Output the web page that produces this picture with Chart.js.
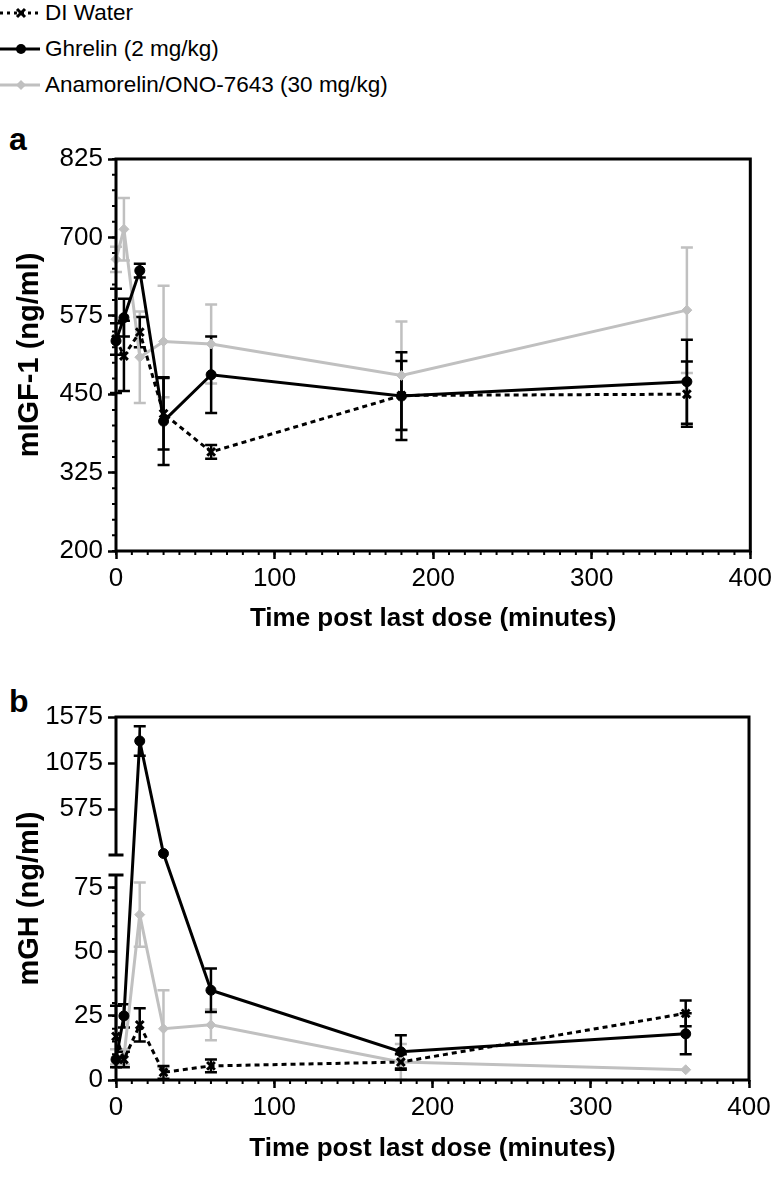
<!DOCTYPE html>
<html>
<head>
<meta charset="utf-8">
<script src="https://cdn.jsdelivr.net/npm/chart.js@4.4.1/dist/chart.umd.min.js"></script>
<style>
body { margin: 0; width: 776px; height: 1186px; position: relative; overflow: hidden; background: #fff; font-family: 'Liberation Sans', Arial, sans-serif; color: #000; }
.item { position: absolute; left: 0; height: 30px; display: flex; align-items: center; font-size: 22.5px; white-space: nowrap; }
.item svg { margin-right: 5px; }
.panel { position: absolute; left: 9px; font-weight: bold; font-size: 32px; line-height: 32px; }
canvas { position: absolute; left: 0; }
</style>
</head>
<body>
<div id="legend"></div>
<div class="panel" style="top:123px">a</div>
<div class="panel" style="top:685px">b</div>
<canvas id="chartA" width="776" height="560" style="top:100px"></canvas>
<canvas id="chartB" width="776" height="526" style="top:660px"></canvas>
<script>
// Temps de prélèvement (minutes après la dernière dose)
const times = [0, 5, 15, 30, 60, 180, 360];
const seriesNames = ['DI Water', 'Ghrelin (2 mg/kg)', 'Anamorelin/ONO-7643 (30 mg/kg)'];

// Graduations
const xTicks = [0, 100, 200, 300, 400];
const igfTicks = [200, 325, 450, 575, 700, 825];
const ghTicks = [0, 25, 50, 75, 575, 1075, 1575];
const ghBreakAt = 80;

// Panneau a : mIGF-1 (ng/ml), moyenne et erreur
const igfWater = [538, 511, 549, 419, 358, 448, 450];
const igfWaterErr = [25, 56, 24, 57, 11, 55, 52];
const igfGhrelin = [535, 572, 647, 407, 481, 447, 470];
const igfGhrelinErr = [83, 30, 11, 70, 61, 70, 67];
const igfAnam = [665, 713, 509, 534, 530, 480, 584];
const igfAnamErr = [20, 50, 73, 89, 63, 86, 100];

// Panneau b : mGH (ng/ml), moyenne et erreur
const ghWater = [17, 8, 21.5, 3, 5.5, 7, 26];
const ghWaterErr = [12, 3, 6.5, 2.5, 2.5, 3, 5];
const ghGhrelin = [8, 25, 1315, 95, 35, 11, 18];
const ghGhrelinErr = [0, 4.5, 160, 0, 8.5, 6.5, 8];
const ghAnam = [9, 9, 64.5, 20, 21.5, 7, 4];
const ghAnamErr = [3, 3, 12.5, 15, 6, 7, 0];

const seriesStyles = [
    { color: '#000000', dash: [5, 4], point: 'crossRot', radius: 5.5, pointBorder: 3 },
    { color: '#000000', dash: [], point: 'circle', radius: 5, pointBorder: 1 },
    { color: '#c0c0c0', dash: [], point: 'rectRot', radius: 5, pointBorder: 1 }
];

Chart.defaults.color = '#000';
Chart.defaults.font.family = "'Liberation Sans', Arial, sans-serif";

// Échelle linéaire coupée en deux segments (bas 0-80, haut 80-max)
class BrokenScale extends Chart.LinearScale {
    parts() {
        const o = this.options.brokenAxis;
        const avail = this.bottom - this.top - o.gap;
        const lowH = avail * o.lowShare;
        return { at: o.at, lowH: lowH, upH: avail - lowH };
    }
    breakPixels() {
        const p = this.parts();
        return { upperEnd: this.top + p.upH, lowerStart: this.bottom - p.lowH };
    }
    getPixelForValue(value) {
        if (value === null || value === undefined || isNaN(value)) return NaN;
        const p = this.parts();
        if (value <= p.at) return this.bottom - (value - this.min) / (p.at - this.min) * p.lowH;
        return this.top + (this.max - value) / (this.max - p.at) * p.upH;
    }
    getValueForPixel(pixel) {
        const p = this.parts();
        if (pixel >= this.bottom - p.lowH) return this.min + (this.bottom - pixel) / p.lowH * (p.at - this.min);
        return this.max - (pixel - this.top) / p.upH * (this.max - p.at);
    }
}
BrokenScale.id = 'broken';
BrokenScale.defaults = Chart.LinearScale.defaults;
Chart.register(BrokenScale);

// Barres d'erreur, cadre et petites graduations
const decor = {
    id: 'decor',
    beforeDatasetsDraw(chart) {
        const ctx = chart.ctx;
        const ys = chart.scales.y;
        ctx.save();
        ctx.lineWidth = 2.5;
        for (let i = chart.data.datasets.length - 1; i >= 0; i--) {
            const ds = chart.data.datasets[i];
            const meta = chart.getDatasetMeta(i);
            ctx.strokeStyle = ds.borderColor;
            ds.data.forEach((p, j) => {
                const e = ds.errors[j];
                if (!e) return;
                const x = meta.data[j].x;
                const y1 = ys.getPixelForValue(p.y + e);
                const y2 = ys.getPixelForValue(Math.max(p.y - e, ys.min));
                ctx.beginPath();
                ctx.moveTo(x, y1); ctx.lineTo(x, y2);
                ctx.moveTo(x - 6, y1); ctx.lineTo(x + 6, y1);
                ctx.moveTo(x - 6, y2); ctx.lineTo(x + 6, y2);
                ctx.stroke();
            });
        }
        ctx.restore();
    },
    afterDraw(chart, args, opts) {
        const ctx = chart.ctx;
        const a = chart.chartArea;
        const xs = chart.scales.x, ys = chart.scales.y;
        ctx.save();
        ctx.strokeStyle = '#000';
        ctx.lineWidth = 3;
        ctx.lineCap = 'square';
        ctx.beginPath();
        ctx.moveTo(a.left, a.top);
        ctx.lineTo(a.right, a.top);
        ctx.lineTo(a.right, a.bottom);
        ctx.lineTo(a.left, a.bottom);
        if (ys.breakPixels) {
            const b = ys.breakPixels();
            ctx.lineTo(a.left, b.lowerStart);
            ctx.moveTo(a.left - 6, b.lowerStart); ctx.lineTo(a.left + 6, b.lowerStart);
            ctx.moveTo(a.left - 6, b.upperEnd); ctx.lineTo(a.left + 6, b.upperEnd);
            ctx.moveTo(a.left, b.upperEnd); ctx.lineTo(a.left, a.top);
        } else {
            ctx.lineTo(a.left, a.top);
        }
        ctx.stroke();

        ctx.lineWidth = 2;
        ctx.lineCap = 'butt';
        ctx.beginPath();
        for (let v = xs.min; v <= xs.max; v += opts.xMinor) {
            const x = xs.getPixelForValue(v);
            ctx.moveTo(x, a.bottom); ctx.lineTo(x, a.bottom + 4);
        }
        const yTop = opts.yMinorMax !== undefined ? opts.yMinorMax : ys.max;
        for (let v = ys.min; v <= yTop; v += opts.yMinor) {
            const y = ys.getPixelForValue(v);
            ctx.moveTo(a.left - 4, y); ctx.lineTo(a.left, y);
        }
        ctx.stroke();
        ctx.restore();
    }
};

function makeDatasets(values, errors) {
    return values.map((vals, i) => ({
        label: seriesNames[i],
        data: times.map((t, j) => ({ x: t, y: vals[j] })),
        errors: errors[i],
        borderColor: seriesStyles[i].color,
        backgroundColor: seriesStyles[i].color,
        borderWidth: 3,
        borderDash: seriesStyles[i].dash,
        pointStyle: seriesStyles[i].point,
        pointRadius: seriesStyles[i].radius,
        pointBorderWidth: seriesStyles[i].pointBorder,
        pointBorderColor: seriesStyles[i].color,
        pointBackgroundColor: seriesStyles[i].color,
        tension: 0,
        clip: false
    }));
}

function xScaleOptions(height, titlePad) {
    return {
        type: 'linear', min: 0, max: 400,
        afterBuildTicks: s => { s.ticks = xTicks.map(v => ({ value: v })); },
        afterFit: s => { s.height = height; },
        border: { display: false },
        grid: { drawOnChartArea: false, drawTicks: true, tickLength: 8, tickWidth: 2.5, tickColor: '#000' },
        ticks: { autoSkip: false, maxRotation: 0, padding: 4, font: { size: 26 }, callback: v => String(v) },
        title: { display: true, text: 'Time post last dose (minutes)', padding: { top: 0, bottom: titlePad }, font: { size: 26, weight: 'bold' } }
    };
}

function yCommon(title, tickList) {
    return {
        afterBuildTicks: s => { s.ticks = tickList.map(v => ({ value: v })); },
        afterFit: s => { s.width = 116; },
        border: { display: false },
        grid: { drawOnChartArea: false, drawTicks: true, tickLength: 8, tickWidth: 2.5, tickColor: '#000' },
        ticks: { autoSkip: false, padding: 5, font: { size: 26 }, callback: v => String(v) },
        title: { display: true, text: title, padding: { top: 13, bottom: 0 }, font: { size: 29, weight: 'bold' } }
    };
}

// Panneau a
new Chart(document.getElementById('chartA'), {
    type: 'line',
    data: { datasets: makeDatasets([igfWater, igfGhrelin, igfAnam], [igfWaterErr, igfGhrelinErr, igfAnamErr]) },
    options: {
        responsive: false, animation: false, devicePixelRatio: 1, events: [],
        layout: { padding: { top: 59, right: 21, left: 0, bottom: 0 } },
        plugins: { legend: { display: false }, tooltip: { enabled: false }, decor: { xMinor: 10, yMinor: 25 } },
        scales: {
            x: xScaleOptions(109, 26),
            y: Object.assign({ type: 'linear', min: 200, max: 825 }, yCommon('mIGF-1 (ng/ml)', igfTicks))
        }
    },
    plugins: [decor]
});

// Panneau b
new Chart(document.getElementById('chartB'), {
    type: 'line',
    data: { datasets: makeDatasets([ghWater, ghGhrelin, ghAnam], [ghWaterErr, ghGhrelinErr, ghAnamErr]) },
    options: {
        responsive: false, animation: false, devicePixelRatio: 1, events: [],
        layout: { padding: { top: 57, right: 27, left: 0, bottom: 0 } },
        plugins: { legend: { display: false }, tooltip: { enabled: false }, decor: { xMinor: 10, yMinor: 5, yMinorMax: ghBreakAt } },
        scales: {
            x: xScaleOptions(106, 22),
            y: Object.assign({ type: 'broken', min: 0, max: 1575, brokenAxis: { at: ghBreakAt, gap: 20, lowShare: 0.598 } }, yCommon('mGH (ng/ml)', ghTicks))
        }
    },
    plugins: [decor]
});

// Légende
const legendEl = document.getElementById('legend');
seriesNames.forEach((name, i) => {
    const st = seriesStyles[i];
    let marker = '';
    if (st.point === 'crossRot') marker = '<path d="M17 9 L25 17 M25 9 L17 17" stroke="#000" stroke-width="3"/>';
    else if (st.point === 'circle') marker = '<circle cx="21" cy="13" r="5" fill="' + st.color + '"/>';
    else marker = '<path d="M21 8 L26 13 L21 18 L16 13 Z" fill="' + st.color + '"/>';
    const dash = st.dash.length ? ' stroke-dasharray="3 4"' : '';
    const row = document.createElement('div');
    row.className = 'item';
    row.style.top = (i * 36 - 2) + 'px';
    row.innerHTML = '<svg width="40" height="26"><line x1="0" y1="13" x2="40" y2="13" stroke="' + st.color + '" stroke-width="3"' + dash + '/>' + marker + '</svg><span>' + name + '</span>';
    legendEl.appendChild(row);
});
</script>
</body>
</html>
